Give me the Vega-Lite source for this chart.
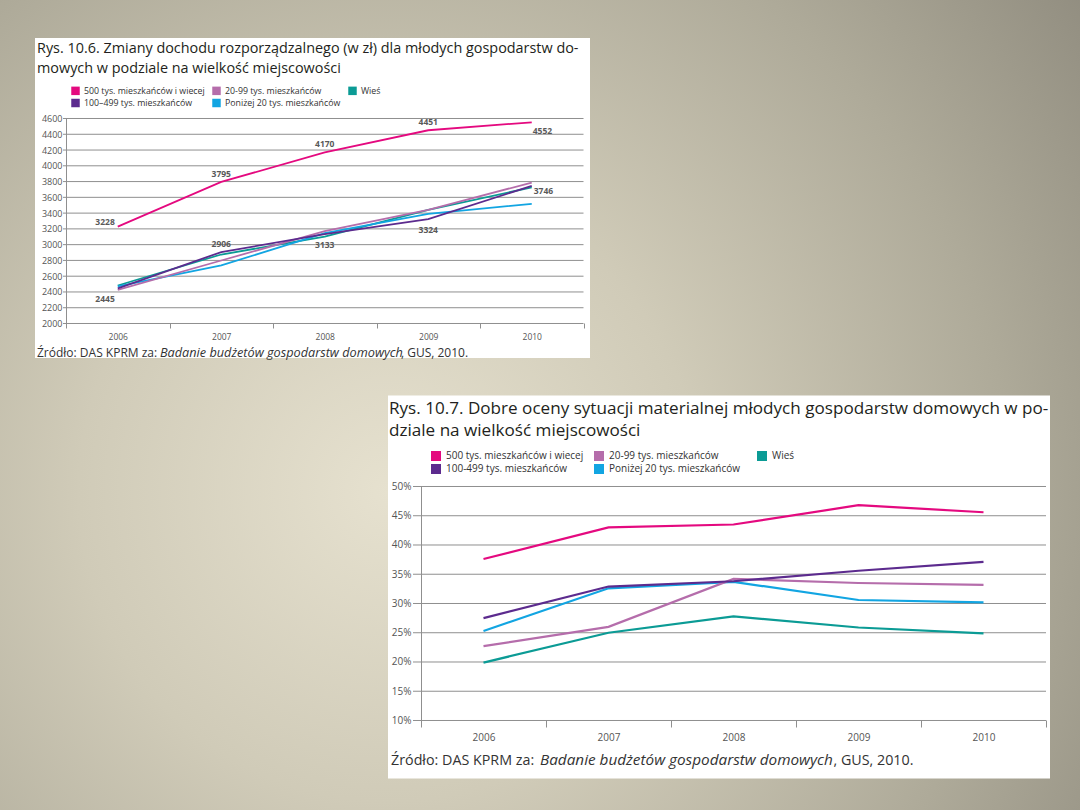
{
  "$schema": "https://vega.github.io/schema/vega-lite/v6.json",
  "width": 1080,
  "height": 810,
  "autosize": {"type": "none"},
  "padding": 0,
  "background": "#b1ac9b",
  "config": {
    "view": {
      "stroke": null,
      "fill": {"gradient": "radial", "x1": 0.36, "y1": 0.58, "r1": 0, "x2": 0.36, "y2": 0.58, "r2": 0.82,
        "stops": [{"offset": 0, "color": "#e6e1cf"}, {"offset": 0.35, "color": "#d0cbb8"}, {"offset": 0.7, "color": "#aeaa99"}, {"offset": 1, "color": "#8e8a7d"}]}
    },
    "font": "Open Sans"
  },
  "datasets": {
    "income": [
      {"group": "Wieś", "year": 2006, "value": 2482}, {"group": "Wieś", "year": 2007, "value": 2875}, {"group": "Wieś", "year": 2008, "value": 3103}, {"group": "Wieś", "year": 2009, "value": 3442}, {"group": "Wieś", "year": 2010, "value": 3727},
      {"group": "Poniżej 20 tys. mieszkańców", "year": 2006, "value": 2472}, {"group": "Poniżej 20 tys. mieszkańców", "year": 2007, "value": 2736}, {"group": "Poniżej 20 tys. mieszkańców", "year": 2008, "value": 3145}, {"group": "Poniżej 20 tys. mieszkańców", "year": 2009, "value": 3391}, {"group": "Poniżej 20 tys. mieszkańców", "year": 2010, "value": 3518},
      {"group": "20-99 tys. mieszkańców", "year": 2006, "value": 2427}, {"group": "20-99 tys. mieszkańców", "year": 2007, "value": 2799}, {"group": "20-99 tys. mieszkańców", "year": 2008, "value": 3171}, {"group": "20-99 tys. mieszkańców", "year": 2009, "value": 3440}, {"group": "20-99 tys. mieszkańców", "year": 2010, "value": 3788},
      {"group": "100–499 tys. mieszkańców", "year": 2006, "value": 2445}, {"group": "100–499 tys. mieszkańców", "year": 2007, "value": 2906}, {"group": "100–499 tys. mieszkańców", "year": 2008, "value": 3133}, {"group": "100–499 tys. mieszkańców", "year": 2009, "value": 3324}, {"group": "100–499 tys. mieszkańców", "year": 2010, "value": 3746},
      {"group": "500 tys. mieszkańców i wiecej", "year": 2006, "value": 3228}, {"group": "500 tys. mieszkańców i wiecej", "year": 2007, "value": 3795}, {"group": "500 tys. mieszkańców i wiecej", "year": 2008, "value": 4170}, {"group": "500 tys. mieszkańców i wiecej", "year": 2009, "value": 4451}, {"group": "500 tys. mieszkańców i wiecej", "year": 2010, "value": 4552}
    ],
    "ratings": [
      {"group": "Wieś", "year": 2006, "value": 19.9}, {"group": "Wieś", "year": 2007, "value": 25.0}, {"group": "Wieś", "year": 2008, "value": 27.8}, {"group": "Wieś", "year": 2009, "value": 25.9}, {"group": "Wieś", "year": 2010, "value": 24.9},
      {"group": "Poniżej 20 tys. mieszkańców", "year": 2006, "value": 25.3}, {"group": "Poniżej 20 tys. mieszkańców", "year": 2007, "value": 32.6}, {"group": "Poniżej 20 tys. mieszkańców", "year": 2008, "value": 33.7}, {"group": "Poniżej 20 tys. mieszkańców", "year": 2009, "value": 30.6}, {"group": "Poniżej 20 tys. mieszkańców", "year": 2010, "value": 30.2},
      {"group": "20-99 tys. mieszkańców", "year": 2006, "value": 22.7}, {"group": "20-99 tys. mieszkańców", "year": 2007, "value": 26.0}, {"group": "20-99 tys. mieszkańców", "year": 2008, "value": 34.2}, {"group": "20-99 tys. mieszkańców", "year": 2009, "value": 33.5}, {"group": "20-99 tys. mieszkańców", "year": 2010, "value": 33.2},
      {"group": "100-499 tys. mieszkańców", "year": 2006, "value": 27.5}, {"group": "100-499 tys. mieszkańców", "year": 2007, "value": 32.9}, {"group": "100-499 tys. mieszkańców", "year": 2008, "value": 33.8}, {"group": "100-499 tys. mieszkańców", "year": 2009, "value": 35.6}, {"group": "100-499 tys. mieszkańców", "year": 2010, "value": 37.1},
      {"group": "500 tys. mieszkańców i wiecej", "year": 2006, "value": 37.6}, {"group": "500 tys. mieszkańców i wiecej", "year": 2007, "value": 43.0}, {"group": "500 tys. mieszkańców i wiecej", "year": 2008, "value": 43.5}, {"group": "500 tys. mieszkańców i wiecej", "year": 2009, "value": 46.8}, {"group": "500 tys. mieszkańców i wiecej", "year": 2010, "value": 45.6}
    ],
    "grid1": [{"v": 2000}, {"v": 2200}, {"v": 2400}, {"v": 2600}, {"v": 2800}, {"v": 3000}, {"v": 3200}, {"v": 3400}, {"v": 3600}, {"v": 3800}, {"v": 4000}, {"v": 4200}, {"v": 4400}, {"v": 4600}],
    "grid2": [{"v": 10}, {"v": 15}, {"v": 20}, {"v": 25}, {"v": 30}, {"v": 35}, {"v": 40}, {"v": 45}, {"v": 50}]
  },
  "layer": [
    {
      "data": {"name": "income"},
      "layer": [
        {
          "data": {"values": [{}]},
          "mark": {"type": "rect", "color": "#ffffff"},
          "encoding": {
            "x": {"datum": 2005.2005, "type": "quantitative", "scale": {"domain": [2004.8623, 2015.2971], "nice": false, "zero": false}},
            "x2": {"datum": 2010.5628},
            "y": {"datum": 5620.95, "type": "quantitative", "scale": {"domain": [-4170.3, 6102.9], "nice": false, "zero": false}},
            "y2": {"datum": 1562.4}
          }
        },
        {
          "data": {"name": "grid1"},
          "mark": {"type": "rule", "color": "#8f8f8f", "strokeWidth": 1},
          "encoding": {
            "x": {"datum": 2005.471, "type": "quantitative", "scale": {"domain": [2004.8623, 2015.2971], "nice": false, "zero": false}},
            "x2": {"datum": 2010.5},
            "y": {"field": "v", "type": "quantitative", "scale": {"domain": [-4170.3, 6102.9], "nice": false, "zero": false}}
          }
        },
        {
          "transform": [{"filter": "false"}],
          "mark": {"type": "square", "filled": true},
          "encoding": {
            "x": {"field": "year", "type": "quantitative", "scale": {"domain": [2004.8623, 2015.2971], "nice": false, "zero": false}},
            "y": {"field": "value", "type": "quantitative", "scale": {"domain": [-4170.3, 6102.9], "nice": false, "zero": false}},
            "color": {"field": "group", "type": "nominal",
              "scale": {"domain": ["500 tys. mieszkańców i wiecej", "20-99 tys. mieszkańców", "Wieś", "100–499 tys. mieszkańców", "Poniżej 20 tys. mieszkańców"], "range": ["#e4097f", "#b56dab", "#0b9b95", "#5c2b8e", "#12a5e2"]},
              "legend": {"orient": "none", "legendX": 71, "legendY": 86, "direction": "horizontal", "columns": 3, "title": null, "symbolType": "square", "symbolSize": 72, "symbolStrokeWidth": 0, "symbolOpacity": 1, "labelFontSize": 8.8, "labelFont": "Open Sans", "labelColor": "#333333", "labelOffset": 4, "columnPadding": 7, "rowPadding": 2.5, "gridAlign": "each", "padding": 0, "offset": 0, "zindex": 1}
            }
          }
        },
        {
          "mark": {"type": "line", "strokeWidth": 1.8},
          "encoding": {
            "x": {"field": "year", "type": "quantitative", "scale": {"domain": [2004.8623, 2015.2971], "nice": false, "zero": false},
              "axis": {"orient": "bottom", "offset": -482, "values": [2005.5, 2006, 2006.5, 2007, 2007.5, 2008, 2008.5, 2009, 2009.5, 2010, 2010.5], "domain": false, "grid": false, "ticks": true, "tickColor": "#8f8f8f", "tickWidth": 1,
                "tickSize": {"condition": {"test": "datum.value === 2005.5", "value": -210}, "value": -5},
                "tickOpacity": {"condition": {"test": "datum.value % 1 === 0", "value": 0}, "value": 1},
                "labelExpr": "datum.value % 1 === 0 ? format(datum.value, 'd') : ''", "labelFontSize": 8.5, "labelColor": "#555555", "labelPadding": 9.5, "labelOverlap": false, "labelFlush": false, "title": null, "zindex": 1}},
            "y": {"field": "value", "type": "quantitative", "scale": {"domain": [-4170.3, 6102.9], "nice": false, "zero": false},
              "axis": {"orient": "left", "offset": -63, "values": [2000, 2200, 2400, 2600, 2800, 3000, 3200, 3400, 3600, 3800, 4000, 4200, 4400, 4600], "domain": false, "grid": false, "ticks": false, "labelPadding": 1, "format": "d", "labelFontSize": 9, "labelColor": "#555555", "labelOverlap": false, "labelFlush": false, "title": null, "zindex": 1}},
            "color": {"field": "group", "type": "nominal",
              "scale": {"domain": ["500 tys. mieszkańców i wiecej", "20-99 tys. mieszkańców", "Wieś", "100–499 tys. mieszkańców", "Poniżej 20 tys. mieszkańców"], "range": ["#e4097f", "#b56dab", "#0b9b95", "#5c2b8e", "#12a5e2"]},
              "legend": null}
          }
        },
        {
          "transform": [{"filter": "(datum.group === '500 tys. mieszkańców i wiecej' && datum.year >= 2007 && datum.year <= 2009) || (datum.group === '100–499 tys. mieszkańców' && datum.year === 2007)"}],
          "mark": {"type": "text", "fontWeight": "bold", "fontSize": 8.5, "color": "#595959", "align": "center", "baseline": "middle", "dy": -8},
          "encoding": {
            "x": {"field": "year", "type": "quantitative", "scale": {"domain": [2004.8623, 2015.2971], "nice": false, "zero": false}},
            "y": {"field": "value", "type": "quantitative", "scale": {"domain": [-4170.3, 6102.9], "nice": false, "zero": false}},
            "text": {"field": "value", "type": "quantitative", "format": "d"}
          }
        },
        {
          "transform": [{"filter": "datum.group === '100–499 tys. mieszkańców' && (datum.year === 2008 || datum.year === 2009)"}],
          "mark": {"type": "text", "fontWeight": "bold", "fontSize": 8.5, "color": "#595959", "align": "center", "baseline": "middle", "dy": 11},
          "encoding": {
            "x": {"field": "year", "type": "quantitative", "scale": {"domain": [2004.8623, 2015.2971], "nice": false, "zero": false}},
            "y": {"field": "value", "type": "quantitative", "scale": {"domain": [-4170.3, 6102.9], "nice": false, "zero": false}},
            "text": {"field": "value", "type": "quantitative", "format": "d"}
          }
        },
        {
          "transform": [{"filter": "datum.group === '500 tys. mieszkańców i wiecej' && datum.year === 2006"}],
          "mark": {"type": "text", "fontWeight": "bold", "fontSize": 8.5, "color": "#595959", "align": "right", "baseline": "middle", "dx": -3, "dy": -5},
          "encoding": {
            "x": {"field": "year", "type": "quantitative", "scale": {"domain": [2004.8623, 2015.2971], "nice": false, "zero": false}},
            "y": {"field": "value", "type": "quantitative", "scale": {"domain": [-4170.3, 6102.9], "nice": false, "zero": false}},
            "text": {"field": "value", "type": "quantitative", "format": "d"}
          }
        },
        {
          "transform": [{"filter": "datum.group === '100–499 tys. mieszkańców' && datum.year === 2006"}],
          "mark": {"type": "text", "fontWeight": "bold", "fontSize": 8.5, "color": "#595959", "align": "right", "baseline": "middle", "dx": -3, "dy": 11},
          "encoding": {
            "x": {"field": "year", "type": "quantitative", "scale": {"domain": [2004.8623, 2015.2971], "nice": false, "zero": false}},
            "y": {"field": "value", "type": "quantitative", "scale": {"domain": [-4170.3, 6102.9], "nice": false, "zero": false}},
            "text": {"field": "value", "type": "quantitative", "format": "d"}
          }
        },
        {
          "transform": [{"filter": "datum.group === '500 tys. mieszkańców i wiecej' && datum.year === 2010"}],
          "mark": {"type": "text", "fontWeight": "bold", "fontSize": 8.5, "color": "#595959", "align": "left", "baseline": "middle", "dx": 1, "dy": 9},
          "encoding": {
            "x": {"field": "year", "type": "quantitative", "scale": {"domain": [2004.8623, 2015.2971], "nice": false, "zero": false}},
            "y": {"field": "value", "type": "quantitative", "scale": {"domain": [-4170.3, 6102.9], "nice": false, "zero": false}},
            "text": {"field": "value", "type": "quantitative", "format": "d"}
          }
        },
        {
          "transform": [{"filter": "datum.group === '100–499 tys. mieszkańców' && datum.year === 2010"}],
          "mark": {"type": "text", "fontWeight": "bold", "fontSize": 8.5, "color": "#595959", "align": "left", "baseline": "middle", "dx": 2, "dy": 5},
          "encoding": {
            "x": {"field": "year", "type": "quantitative", "scale": {"domain": [2004.8623, 2015.2971], "nice": false, "zero": false}},
            "y": {"field": "value", "type": "quantitative", "scale": {"domain": [-4170.3, 6102.9], "nice": false, "zero": false}},
            "text": {"field": "value", "type": "quantitative", "format": "d"}
          }
        },
        {
          "data": {"values": [{}]},
          "mark": {"type": "text", "text": ["Rys. 10.6. Zmiany dochodu rozporządzalnego (w zł) dla młodych gospodarstw do-", "mowych w podziale na wielkość miejscowości"], "align": "left", "baseline": "alphabetic", "fontSize": 14.4, "lineHeight": 19.5, "color": "#231f20"},
          "encoding": {
            "x": {"datum": 2005.2198, "type": "quantitative", "scale": {"domain": [2004.8623, 2015.2971], "nice": false, "zero": false}},
            "y": {"datum": 5430.7, "type": "quantitative", "scale": {"domain": [-4170.3, 6102.9], "nice": false, "zero": false}}
          }
        },
        {
          "data": {"values": [{}]},
          "mark": {"type": "text", "text": "Źródło: DAS KPRM za:", "align": "left", "baseline": "alphabetic", "fontSize": 12, "color": "#333333"},
          "encoding": {
            "x": {"datum": 2005.2198, "type": "quantitative", "scale": {"domain": [2004.8623, 2015.2971], "nice": false, "zero": false}},
            "y": {"datum": 1575.1, "type": "quantitative", "scale": {"domain": [-4170.3, 6102.9], "nice": false, "zero": false}}
          }
        },
        {
          "data": {"values": [{}]},
          "mark": {"type": "text", "text": "Badanie budżetów gospodarstw domowych", "align": "left", "baseline": "alphabetic", "fontSize": 12.7, "fontStyle": "italic", "color": "#333333"},
          "encoding": {
            "x": {"datum": 2006.4082, "type": "quantitative", "scale": {"domain": [2004.8623, 2015.2971], "nice": false, "zero": false}},
            "y": {"datum": 1575.1, "type": "quantitative", "scale": {"domain": [-4170.3, 6102.9], "nice": false, "zero": false}}
          }
        },
        {
          "data": {"values": [{}]},
          "mark": {"type": "text", "text": ", GUS, 2010.", "align": "left", "baseline": "alphabetic", "fontSize": 12, "color": "#333333"},
          "encoding": {
            "x": {"datum": 2008.7366, "type": "quantitative", "scale": {"domain": [2004.8623, 2015.2971], "nice": false, "zero": false}},
            "y": {"datum": 1575.1, "type": "quantitative", "scale": {"domain": [-4170.3, 6102.9], "nice": false, "zero": false}}
          }
        }
      ]
    },
    {
      "data": {"name": "ratings"},
      "layer": [
        {
          "data": {"values": [{}]},
          "mark": {"type": "rect", "color": "#ffffff"},
          "encoding": {
            "x": {"datum": 2005.236, "type": "quantitative", "scale": {"domain": [2002.132, 2010.772], "nice": false, "zero": false}},
            "x2": {"datum": 2010.532},
            "y": {"datum": 65.556, "type": "quantitative", "scale": {"domain": [-5.3, 133.162], "nice": false, "zero": false}},
            "y2": {"datum": 0.08}
          }
        },
        {
          "data": {"name": "grid2"},
          "mark": {"type": "rule", "color": "#8f8f8f", "strokeWidth": 1},
          "encoding": {
            "x": {"datum": 2005.436, "type": "quantitative", "scale": {"domain": [2002.132, 2010.772], "nice": false, "zero": false}},
            "x2": {"datum": 2010.5},
            "y": {"field": "v", "type": "quantitative", "scale": {"domain": [-5.3, 133.162], "nice": false, "zero": false}}
          }
        },
        {
          "transform": [{"filter": "false"}],
          "mark": {"type": "square", "filled": true},
          "encoding": {
            "x": {"field": "year", "type": "quantitative", "scale": {"domain": [2002.132, 2010.772], "nice": false, "zero": false}},
            "y": {"field": "value", "type": "quantitative", "scale": {"domain": [-5.3, 133.162], "nice": false, "zero": false}},
            "color": {"field": "group", "type": "nominal",
              "scale": {"domain": ["500 tys. mieszkańców i wiecej", "20-99 tys. mieszkańców", "Wieś", "100-499 tys. mieszkańców", "Poniżej 20 tys. mieszkańców"], "range": ["#e4097f", "#b56dab", "#0b9b95", "#5c2b8e", "#12a5e2"]},
              "legend": {"orient": "none", "legendX": 431, "legendY": 451, "direction": "horizontal", "columns": 3, "title": null, "symbolType": "square", "symbolSize": 100, "symbolStrokeWidth": 0, "symbolOpacity": 1, "labelFontSize": 10, "labelFont": "Open Sans", "labelColor": "#333333", "labelOffset": 5, "columnPadding": 10, "rowPadding": 3, "gridAlign": "all", "padding": 0, "offset": 0, "zindex": 1}
            }
          }
        },
        {
          "mark": {"type": "line", "strokeWidth": 2.2},
          "encoding": {
            "x": {"field": "year", "type": "quantitative", "scale": {"domain": [2002.132, 2010.772], "nice": false, "zero": false},
              "axis": {"orient": "bottom", "offset": -83, "values": [2005.5, 2006, 2006.5, 2007, 2007.5, 2008, 2008.5, 2009, 2009.5, 2010, 2010.5], "domain": false, "grid": false, "ticks": true, "tickColor": "#8f8f8f", "tickWidth": 1,
                "tickSize": {"condition": {"test": "datum.value === 2005.5", "value": -241}, "value": -7},
                "tickOpacity": {"condition": {"test": "datum.value % 1 === 0", "value": 0}, "value": 1},
                "labelExpr": "datum.value % 1 === 0 ? format(datum.value, 'd') : ''", "labelFontSize": 10, "labelColor": "#555555", "labelPadding": 12, "labelOverlap": false, "labelFlush": false, "title": null, "zindex": 1}},
            "y": {"field": "value", "type": "quantitative", "scale": {"domain": [-5.3, 133.162], "nice": false, "zero": false},
              "axis": {"orient": "left", "offset": -413, "values": [10, 15, 20, 25, 30, 35, 40, 45, 50], "domain": false, "grid": false, "ticks": false, "labelPadding": 2, "labelExpr": "datum.value + '%'", "labelFontSize": 10, "labelColor": "#555555", "labelOverlap": false, "labelFlush": false, "title": null, "zindex": 1}},
            "color": {"field": "group", "type": "nominal",
              "scale": {"domain": ["500 tys. mieszkańców i wiecej", "20-99 tys. mieszkańców", "Wieś", "100-499 tys. mieszkańców", "Poniżej 20 tys. mieszkańców"], "range": ["#e4097f", "#b56dab", "#0b9b95", "#5c2b8e", "#12a5e2"]},
              "legend": null}
          }
        },
        {
          "data": {"values": [{}]},
          "mark": {"type": "text", "text": ["Rys. 10.7. Dobre oceny sytuacji materialnej młodych gospodarstw domowych w po-", "dziale na wielkość miejscowości"], "align": "left", "baseline": "alphabetic", "fontSize": 17.1, "lineHeight": 22, "color": "#231f20"},
          "encoding": {
            "x": {"datum": 2005.244, "type": "quantitative", "scale": {"domain": [2002.132, 2010.772], "nice": false, "zero": false}},
            "y": {"datum": 62.393, "type": "quantitative", "scale": {"domain": [-5.3, 133.162], "nice": false, "zero": false}}
          }
        },
        {
          "data": {"values": [{}]},
          "mark": {"type": "text", "text": "Źródło: DAS KPRM za:", "align": "left", "baseline": "alphabetic", "fontSize": 14.3, "color": "#333333"},
          "encoding": {
            "x": {"datum": 2005.26, "type": "quantitative", "scale": {"domain": [2002.132, 2010.772], "nice": false, "zero": false}},
            "y": {"datum": 2.393, "type": "quantitative", "scale": {"domain": [-5.3, 133.162], "nice": false, "zero": false}}
          }
        },
        {
          "data": {"values": [{}]},
          "mark": {"type": "text", "text": "Badanie budżetów gospodarstw domowych", "align": "left", "baseline": "alphabetic", "fontSize": 15.3, "fontStyle": "italic", "color": "#333333"},
          "encoding": {
            "x": {"datum": 2006.452, "type": "quantitative", "scale": {"domain": [2002.132, 2010.772], "nice": false, "zero": false}},
            "y": {"datum": 2.393, "type": "quantitative", "scale": {"domain": [-5.3, 133.162], "nice": false, "zero": false}}
          }
        },
        {
          "data": {"values": [{}]},
          "mark": {"type": "text", "text": ", GUS, 2010.", "align": "left", "baseline": "alphabetic", "fontSize": 14.3, "color": "#333333"},
          "encoding": {
            "x": {"datum": 2008.8, "type": "quantitative", "scale": {"domain": [2002.132, 2010.772], "nice": false, "zero": false}},
            "y": {"datum": 2.393, "type": "quantitative", "scale": {"domain": [-5.3, 133.162], "nice": false, "zero": false}}
          }
        }
      ]
    }
  ],
  "resolve": {"scale": {"x": "independent", "y": "independent", "color": "independent"}}
}
